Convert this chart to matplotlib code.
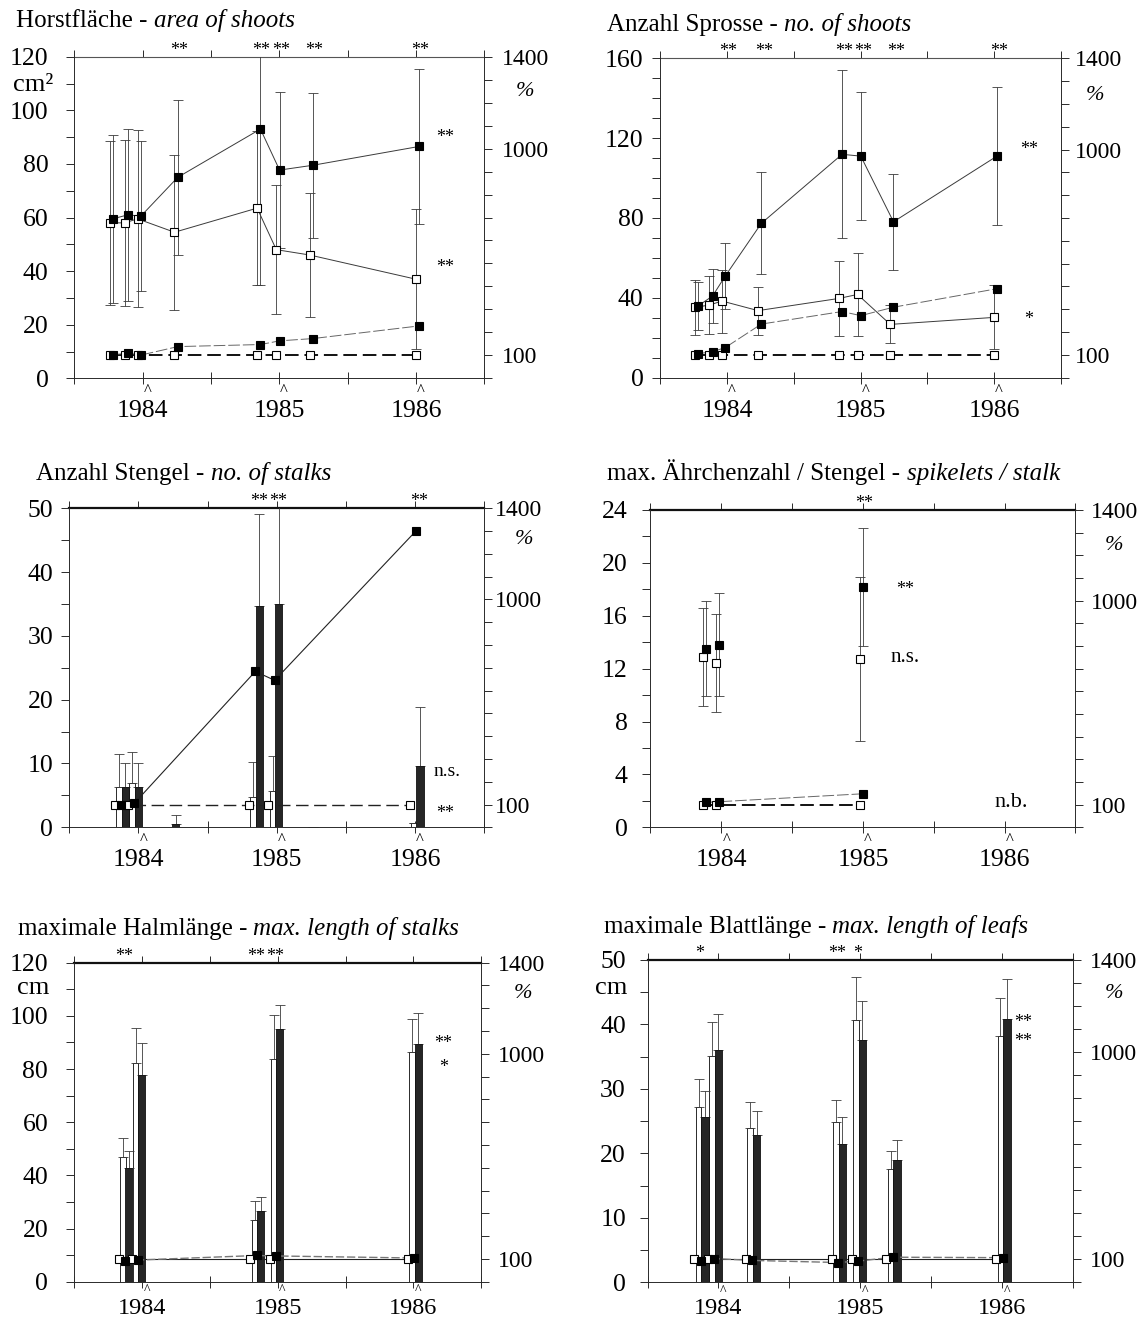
import numpy as np
import matplotlib
matplotlib.use("Agg")
import matplotlib.pyplot as plt
from matplotlib.ticker import MultipleLocator, FuncFormatter

plt.rcParams["font.family"] = ["Liberation Serif", "DejaVu Serif"]

W, H = 1142, 1322
fig = plt.figure(figsize=(W / 100, H / 100), dpi=100)

nan = np.nan
# ---------------- data ----------------
dates = [1983.77, 1983.88, 1983.975, 1984.245, 1984.85, 1984.99, 1985.235, 1986.01]
year_ticks = [1984, 1985, 1986]
pct_labels = {100: "100", 1000: "1000", 1400: "1400"}

# Panel 1: Horstfläche - area of shoots
p1_open = [58, 58, 59.5, 54.5, 63.5, 48, 46, 37]
p1_open_err = [30.5, 31, 33, 29, 28.7, 24, 23, 26]
p1_fill = [59.5, 61, 60.5, 75, 93, 77.7, 79.5, 86.5]
p1_fill_err = [31.3, 32, 28, 29, 58, 29, 27, 29]
p1_open_pct = [100, 100, 100, 100, 100, 100, 100, 100]
p1_fill_pct = [102, 110, 101, 138, 147, 163, 173, 228]
p1_sig = ["", "", "", "**", "**", "**", "**", "**"]

# Panel 2: Anzahl Sprosse - no. of shoots
p2_open = [35.2, 36.4, 38.4, 33.6, 39.7, 41.7, 26.7, 30.2]
p2_open_err = [13.7, 14.3, 15.8, 12, 19, 21, 9.5, 16]
p2_fill = [35.9, 40.9, 50.9, 77.3, 111.9, 111, 78.1, 111]
p2_fill_err = [12, 13.5, 16.5, 25.5, 42, 32, 24, 34.5]
p2_open_pct = [100, 100, 100, 100, 100, 100, 100, 100]
p2_fill_pct = [105, 114, 132, 235, 290, 272, 309, 390]
p2_sig = ["", "", "**", "**", "**", "**", "**", "**"]

# Panel 3: Anzahl Stengel - no. of stalks (bars)
p3_open = [nan, 6.3, 6.9, nan, 4.8, 5.7, nan, 0.6]
p3_open_err = [nan, 5.2, 4.85, nan, 5.5, 5.4, nan, 0]
p3_fill = [nan, 6.36, 6.36, 0.5, 34.7, 35.0, 0.1, 9.6]
p3_fill_err = [nan, 3.74, 3.74, 1.4, 14.4, 17, 0, 9.2]
p3_open_pct = [nan, 100, 100, nan, 100, 100, nan, 100]
p3_fill_pct = [nan, 100, 105, nan, 684, 645, nan, 1300]
p3_sig = ["", "", "", "", "**", "**", "", "**"]

# Panel 4: spikelets / stalk
p4_open = [nan, 12.9, 12.45, nan, nan, 12.7, nan, nan]
p4_open_err = [nan, 3.7, 3.7, nan, nan, 6.2, nan, nan]
p4_fill = [nan, 13.5, 13.8, nan, nan, 18.2, nan, nan]
p4_fill_err = [nan, 3.6, 3.9, nan, nan, 4.45, nan, nan]
p4_open_pct = [nan, 100, 100, nan, nan, 100, nan, nan]
p4_fill_pct = [nan, 110, 113, nan, nan, 148, nan, nan]
p4_sig = ["", "", "", "", "", "**", "", ""]

# Panel 5: max. length of stalks (bars)
p5_open = [nan, 46.8, 82.1, nan, 23.2, 83.8, nan, 86.3]
p5_open_err = [nan, 7.1, 13.4, nan, 7.1, 16.5, nan, 12.4]
p5_fill = [nan, 42.6, 77.7, nan, 26.6, 95.0, nan, 89.4]
p5_fill_err = [nan, 6.7, 12.2, nan, 5.4, 9.1, nan, 11.5]
p5_open_pct = [nan, 100, 100, nan, 100, 100, nan, 100]
p5_fill_pct = [nan, 92, 95, nan, 115, 113, nan, 104]
p5_sig = ["", "**", "", "", "**", "**", "", ""]

# Panel 6: max. length of leafs (bars)
p6_open = [nan, 27.2, 35.1, 24.0, 24.9, 40.7, 17.5, 38.2]
p6_open_err = [nan, 4.3, 5.3, 3.9, 3.4, 6.7, 2.9, 5.9]
p6_fill = [nan, 25.7, 36.1, 22.9, 21.5, 37.6, 19.0, 40.8]
p6_fill_err = [nan, 3.9, 5.6, 3.7, 4.1, 6.1, 3.1, 6.2]
p6_open_pct = [nan, 100, 100, 100, 100, 100, 100, 100]
p6_fill_pct = [nan, 94, 103, 95, 86, 92, 109, 107]
p6_sig = ["", "*", "", "", "**", "*", "", ""]

EDGE = "#2a2a2a"
LINE = "#3a3a3a"
TICK_FS = 18.5
PCT_FS = 17
TITLE_FS = 18


def valid(xs, ys):
    pts = [(x, y) for x, y in zip(xs, ys) if not np.isnan(y)]
    return [p[0] for p in pts], [p[1] for p in pts]


def fig_text(x, y, s, **kw):
    return fig.text(x / W, 1 - y / H, s, **kw)


def title(x, y, normal, italic, size=TITLE_FS):
    t = fig_text(x, y, normal, fontsize=size, va="baseline", ha="left")
    plt.annotate(italic, xy=(1, 0), xycoords=t, xytext=(0.25 * size, 0),
                 textcoords="offset points", fontsize=size, style="italic",
                 va="bottom", ha="left", annotation_clip=False)


def setup(l, t, r, b, ymax, major, minor, lpad, rpad, top_lw,
          year_dy=-15.8, caret_dy=-15.2, year_fs=18.5, caret_fs=12):
    ax = fig.add_axes([l / W, 1 - b / H, (r - l) / W, (b - t) / H])
    ax.set_xlim(1983.5, 1986.5)
    ax.set_ylim(0, ymax)
    ax.set_facecolor("none")
    ax.yaxis.set_major_locator(MultipleLocator(major))
    ax.yaxis.set_minor_locator(MultipleLocator(minor))
    ax.yaxis.set_major_formatter(FuncFormatter(lambda v, p: f"{v:g}"))
    ax.tick_params(axis="y", which="both", direction="out", length=5.5,
                   width=0.7, color=EDGE, labelsize=TICK_FS, pad=lpad)
    xt = np.arange(1983.5, 1986.6, 0.5)
    ax.set_xticks(xt)
    ax.set_xticklabels([])
    ax.tick_params(axis="x", direction="inout", length=9, width=0.7, color=EDGE)
    for s in ["top", "right"]:
        ax.spines[s].set_visible(False)
    for s in ["left", "bottom"]:
        ax.spines[s].set_linewidth(0.7)
        ax.spines[s].set_color(EDGE)
    sec = ax.secondary_xaxis("top")
    sec.set_xticks(xt)
    sec.tick_params(direction="out", length=5, width=0.7, labeltop=False, color=EDGE)
    sec.spines["top"].set_linewidth(top_lw)
    sec.spines["top"].set_color("#111" if top_lw > 1 else "#555")

    ax2 = ax.twinx()
    ax2.set_ylim(0, 1400)
    pt = np.arange(0, 1401, 100)
    ax2.set_yticks(pt)
    ax2.set_yticklabels([pct_labels.get(int(v), "") for v in pt])
    ax2.tick_params(axis="y", direction="out", length=6, width=0.7, color=EDGE,
                    labelsize=PCT_FS, pad=rpad)
    for s in ["left", "top", "bottom"]:
        ax2.spines[s].set_visible(False)
    ax2.spines["right"].set_linewidth(0.7)
    ax2.spines["right"].set_color(EDGE)

    for yr in year_ticks:
        ax.annotate(str(yr), xy=(yr, 0), xycoords=("data", "axes fraction"),
                    xytext=(0, year_dy), textcoords="offset points", ha="center",
                    va="top", fontsize=year_fs, annotation_clip=False)
        ax.annotate("^", xy=(yr + 0.035, 0), xycoords=("data", "axes fraction"),
                    xytext=(0, caret_dy), textcoords="offset points", ha="center",
                    va="bottom", fontsize=caret_fs, annotation_clip=False)
    return ax, ax2


def top_sig(ax, sig, offset=0.02):
    for d, s in zip(dates, sig):
        if s:
            ax.annotate(s, xy=(d + offset, 1), xycoords=("data", "axes fraction"),
                        xytext=(0, 1.5), textcoords="offset points", ha="center",
                        va="baseline", fontsize=13, annotation_clip=False)


def mark(ax, x, y, s, size=13):
    if set(s) == {"*"}:
        off = -0.5 * size
    elif "b" in s:
        off = -0.34 * size
    else:
        off = -0.23 * size
    ax.annotate(s, xy=(x, y), xytext=(0, off), textcoords="offset points",
                ha="center", va="baseline", fontsize=size)


def line_panel(ax, ax2, ov, oe, fv, fe, op, fp, connect=True, ms=6.3):
    xo = [d - 0.012 for d in dates]
    xf = [d + 0.012 for d in dates]
    ax.errorbar(xo, ov, yerr=oe, fmt="none", ecolor=LINE, elinewidth=0.6,
                capsize=3.5, capthick=0.6, zorder=2)
    ax.errorbar(xf, fv, yerr=fe, fmt="none", ecolor=LINE, elinewidth=0.6,
                capsize=3.5, capthick=0.6, zorder=2)
    if connect:
        ax.plot(xo, ov, "-", color=LINE, lw=0.7, zorder=3)
        ax.plot(xf, fv, "-", color=LINE, lw=0.7, zorder=3)
    ax.plot(xo, ov, "s", mfc="white", mec="black", ms=ms, mew=0.8, zorder=4, ls="none")
    ax.plot(xf, fv, "s", mfc="black", mec="black", ms=ms, mew=0.8, zorder=5, ls="none")
    a, b = valid(xo, op)
    ax2.plot(a, b, color="#111", lw=1.4, dashes=(7, 3), zorder=3)
    ax2.plot(a, b, "s", mfc="white", mec="black", ms=ms, mew=0.8, zorder=4, ls="none")
    a, b = valid(xf, fp)
    ax2.plot(a, b, color="#666", lw=0.7, dashes=(12, 3), zorder=3)
    ax2.plot(a, b, "s", mfc="black", mec="black", ms=ms, mew=0.8, zorder=5, ls="none")


def bar_panel(ax, ax2, ov, oe, fv, fe, op, fp, open_pct_solid=True):
    xo = [d - 0.02 for d in dates]
    xf = [d + 0.025 for d in dates]
    a, b = valid(xo, ov)
    e = [x for x in oe if not np.isnan(x)]
    ax.bar(a, b, width=0.04, color="white", edgecolor=EDGE, linewidth=0.7, zorder=2)
    ax.errorbar(a, b, yerr=[np.zeros(len(e)), e], fmt="none", ecolor=LINE,
                elinewidth=0.6, capsize=3.5, capthick=0.6, zorder=2.5)
    a, b = valid(xf, fv)
    e = [x for x in fe if not np.isnan(x)]
    ax.bar(a, b, width=0.052, color="#262626", edgecolor="#111", linewidth=0.6, zorder=3)
    ax.errorbar(a, b, yerr=[np.zeros(len(e)), e], fmt="none", ecolor=LINE,
                elinewidth=0.6, capsize=3.5, capthick=0.6, zorder=2.5)
    xpo = [d - 0.05 for d in dates]
    xpf = [d - 0.005 for d in dates]
    a, b = valid(xpo, op)
    if open_pct_solid:
        ax2.plot(a, b, "-", color="#222", lw=0.8, zorder=3)
    else:
        ax2.plot(a, b, color="#222", lw=1.0, dashes=(9, 4), zorder=3)
    ax2.plot(a, b, "s", mfc="white", mec="black", ms=5.5, mew=0.8, zorder=4, ls="none")
    c, d_ = valid(xpf, fp)
    if open_pct_solid:
        ax2.plot(c, d_, color="#777", lw=1.0, dashes=(6, 2), zorder=3)
    else:
        ax2.plot(c, d_, "-", color="#222", lw=0.8, zorder=3)
    ax2.plot(c, d_, "s", mfc="black", mec="black", ms=5.5, mew=0.8, zorder=5, ls="none")


BOTTOM_ROW = dict(year_dy=-11.5, caret_dy=-11.0, year_fs=17.5, caret_fs=10)

# ---------------- Panel 1 ----------------
ax, ax2 = setup(74.3, 56.7, 484.3, 378.3, 120, 20, 10, 13, 6.5, 0.8)
line_panel(ax, ax2, p1_open, p1_open_err, p1_fill, p1_fill_err, p1_open_pct, p1_fill_pct)
top_sig(ax, p1_sig)
mark(ax, 1986.21, 91.4, "**")
mark(ax, 1986.21, 42.9, "**")
title(16.4, 27, "Horstfläche -", "area of shoots")
fig_text(33, 85, "cm²", fontsize=19, ha="center", va="center")
fig_text(525, 92, "%", fontsize=16, ha="center", va="center", style="italic")

# ---------------- Panel 2 ----------------
ax, ax2 = setup(660.2, 58.3, 1060.8, 377.7, 160, 40, 10, 6.5, 4, 0.8)
line_panel(ax, ax2, p2_open, p2_open_err, p2_fill, p2_fill_err, p2_open_pct, p2_fill_pct)
top_sig(ax, p2_sig, offset=0.03)
mark(ax, 1986.26, 116.5, "**")
mark(ax, 1986.26, 31.4, "*")
title(607.4, 31.5, "Anzahl Sprosse -", "no. of shoots")
fig_text(1095, 95, "%", fontsize=16, ha="center", va="center", style="italic")

# ---------------- Panel 3 ----------------
ax, ax2 = setup(69.2, 508.3, 484.3, 827.3, 50, 10, 5, 6, 1.5, 1.6)
bar_panel(ax, ax2, p3_open, p3_open_err, p3_fill, p3_fill_err, p3_open_pct, p3_fill_pct,
          open_pct_solid=False)
top_sig(ax, p3_sig)
mark(ax, 1986.23, 8.7, "n.s.", 14)
mark(ax, 1986.22, 2.8, "**")
title(36.4, 480, "Anzahl Stengel -", "no. of stalks")
fig_text(524, 540, "%", fontsize=16, ha="center", va="center", style="italic")

# ---------------- Panel 4 ----------------
ax, ax2 = setup(650.4, 510, 1075.4, 827.3, 24, 4, 2, 11, 5.5, 1.6)
line_panel(ax, ax2, p4_open, p4_open_err, p4_fill, p4_fill_err, p4_open_pct, p4_fill_pct,
           connect=False, ms=6)
top_sig(ax, p4_sig)
mark(ax, 1985.30, 18.3, "**")
mark(ax, 1985.30, 12.9, "n.s.", 15)
mark(ax, 1986.05, 2.1, "n.b.", 16)
title(607.4, 480, "max. Ährchenzahl / Stengel -", "spikelets / stalk")
fig_text(1113.6, 545, "%", fontsize=16, ha="center", va="center", style="italic")

# ---------------- Panel 5 ----------------
ax, ax2 = setup(73.9, 962.7, 481.4, 1281.7, 120, 20, 10, 13, 6.2, 1.6, **BOTTOM_ROW)
bar_panel(ax, ax2, p5_open, p5_open_err, p5_fill, p5_fill_err, p5_open_pct, p5_fill_pct)
top_sig(ax, p5_sig, offset=-0.01)
mark(ax, 1986.22, 91.2, "**")
mark(ax, 1986.22, 82.4, "*")
title(17.5, 935, "maximale Halmlänge -", "max. length of stalks")
fig_text(32.8, 988, "cm", fontsize=19, ha="center", va="center")
fig_text(522.6, 993, "%", fontsize=16, ha="center", va="center", style="italic")

# ---------------- Panel 6 ----------------
ax, ax2 = setup(647.5, 960, 1072.8, 1282.3, 50, 10, 5, 10, 6, 1.6, **BOTTOM_ROW)
bar_panel(ax, ax2, p6_open, p6_open_err, p6_fill, p6_fill_err, p6_open_pct, p6_fill_pct)
top_sig(ax, p6_sig, offset=-0.01)
mark(ax, 1986.15, 41, "**")
mark(ax, 1986.15, 38.1, "**")
title(603.8, 933, "maximale Blattlänge -", "max. length of leafs")
fig_text(611, 988, "cm", fontsize=19, ha="center", va="center")
fig_text(1113.6, 993, "%", fontsize=16, ha="center", va="center", style="italic")

fig.savefig("out.png", dpi=100, facecolor="white")
